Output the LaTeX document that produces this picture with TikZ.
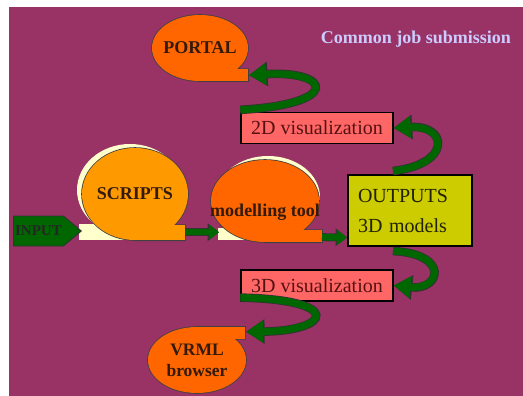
\documentclass[tikz,border=0pt]{standalone}
\usepackage{fontspec}
\setmainfont{Liberation Serif}
\usetikzlibrary{arrows.meta,shapes.geometric,shapes.symbols,backgrounds}

\definecolor{slidebg}{HTML}{993366}
\definecolor{titletext}{HTML}{CCCCFF}
\definecolor{tapeor}{HTML}{FF6600}
\definecolor{scriptsor}{HTML}{FF9900}
\definecolor{paleyel}{HTML}{FFFFCC}
\definecolor{visred}{HTML}{FF6666}
\definecolor{outyel}{HTML}{CCCC00}
\definecolor{dkgreen}{HTML}{006600}
\definecolor{labeltext}{HTML}{331A0A}
\definecolor{vistext}{HTML}{551111}
\definecolor{outtext}{HTML}{222200}

\tikzset{
	tapenode/.style={shape=ellipse, inner sep=0pt, align=center, text=labeltext, font=\bfseries\fontsize{18}{21}\selectfont},
	visbox/.style={shape=rectangle, draw=black, line width=1.3pt, fill=visred, minimum width=152pt, minimum height=31pt, inner sep=0pt, text=vistext, font=\fontsize{20}{22}\selectfont},
	rim/.style={draw=black!75, line width=1.6pt},
	bigarrow/.style={draw=dkgreen, line width=7pt, -{Triangle[length=17pt,width=21pt]},
		preaction={draw=black!80, line width=8.6pt, -{Triangle[length=18.6pt,width=23.6pt]}}},
	smallarrow/.style={draw=dkgreen, line width=6.5pt, -{Triangle[length=10pt,width=15pt]},
		preaction={draw=black!80, line width=8pt, -{Triangle[length=11.4pt,width=17pt]}}}
}

\begin{document}
\begin{tikzpicture}[x=1pt,y=-1pt]
	\useasboundingbox (0,0) rectangle (523,396);

	% the nodes
	\node[anchor=base, text=titletext, font=\bfseries\fontsize{18}{21}\selectfont] (title) at (416,44) {Common job submission};
	\node[tapenode, minimum width=96pt, minimum height=66pt] (portal) at (200,48) {PORTAL};
	\node[tapenode, minimum width=106pt, minimum height=92pt] (scripts) at (135,194) {SCRIPTS};
	\node[tapenode, minimum width=108pt, minimum height=82pt] (model) at (265,201) {};
	\node[tapenode] (modeltext) at ([yshift=-11pt]model.center) {modelling tool};
	\node[tapenode, minimum width=98pt, minimum height=66pt, font=\bfseries\fontsize{17.5}{21}\selectfont] (vrml) at (197,360) {VRML\\browser};
	\node[signal, signal to=east, signal pointer angle=80, fill=dkgreen, draw=black!80, line width=0.8pt, anchor=west,
		minimum width=68pt, minimum height=30pt, inner xsep=1pt, inner ysep=0pt, text=black!85, font=\bfseries\fontsize{15}{17}\selectfont] (input) at (13,231) {INPUT};
	\node[visbox] (vis2d) at (317,128) {2D visualization};
	\node[visbox] (vis3d) at (317,285.5) {3D visualization};
	\node[draw=black, line width=2pt, fill=outyel, minimum width=124pt, minimum height=71pt, text width=104pt, inner xsep=10pt,
		align=left, text=outtext, font=\fontsize{20}{30}\selectfont] (outputs) at (410,210.5) {OUTPUTS\\3D models};

	% tape shapes behind the labels
	\begin{scope}[on background layer]
		\fill[slidebg] (9,7) rectangle (523,396);

		\path[rim] (portal.center) ellipse [x radius=48pt, y radius=33pt] (portal.south) rectangle ++(48,-12);
		\fill[tapeor] (portal.center) ellipse [x radius=48pt, y radius=33pt];
		\fill[tapeor] (portal.south) rectangle ++(48,-12);

		\fill[paleyel] ([shift={(-5pt,4pt)}]scripts.center) ellipse [x radius=53pt, y radius=46pt];
		\fill[paleyel] ([xshift=-56pt]scripts.south) rectangle ++(56,-16);
		\path[rim] (scripts.center) ellipse [x radius=53pt, y radius=46pt] (scripts.south) rectangle ++(50,-15);
		\fill[scriptsor] (scripts.center) ellipse [x radius=53pt, y radius=46pt];
		\fill[scriptsor] (scripts.south) rectangle ++(50,-15);

		\fill[paleyel] ([shift={(3pt,4pt)}]model.center) ellipse [x radius=52pt, y radius=41pt];
		\fill[paleyel] ([shift={(-47pt,2pt)}]model.south) rectangle ++(47,-12);
		\path[rim] (model.center) ellipse [x radius=54pt, y radius=41pt] (model.south) rectangle ++(57,-12);
		\fill[tapeor] (model.center) ellipse [x radius=54pt, y radius=41pt];
		\fill[tapeor] (model.south) rectangle ++(57,-12);

		\path[rim] (vrml.center) ellipse [x radius=49pt, y radius=33pt] (vrml.north) rectangle ++(48,12);
		\fill[tapeor] (vrml.center) ellipse [x radius=49pt, y radius=33pt];
		\fill[tapeor] (vrml.north) rectangle ++(48,12);
	\end{scope}

	% the arrows
	\draw[smallarrow] ([shift={(50pt,8pt)}]scripts.south) -- ([shift={(-46pt,10pt)}]model.south);
	\draw[smallarrow] ([shift={(57pt,5pt)}]model.south) -- ([yshift=-27pt]outputs.west);
	\draw[bigarrow] ([yshift=2pt]vis2d.north west) .. controls +(103,-6) and +(81,-5) .. ([shift={(49pt,6pt)}]portal.south);
	\draw[bigarrow] ([xshift=-17pt,yshift=3pt]outputs.north) .. controls +(59,-7) and +(54,-3) .. (vis2d.east);
	\draw[bigarrow] ([xshift=-17pt,yshift=-4pt]outputs.south) .. controls +(57,3) and +(47,5) .. (vis3d.east);
	\draw[bigarrow] ([yshift=4pt]vis3d.south west) .. controls +(104,2) and +(85,-1) .. ([shift={(49pt,-5pt)}]vrml.north);
\end{tikzpicture}
\end{document}
